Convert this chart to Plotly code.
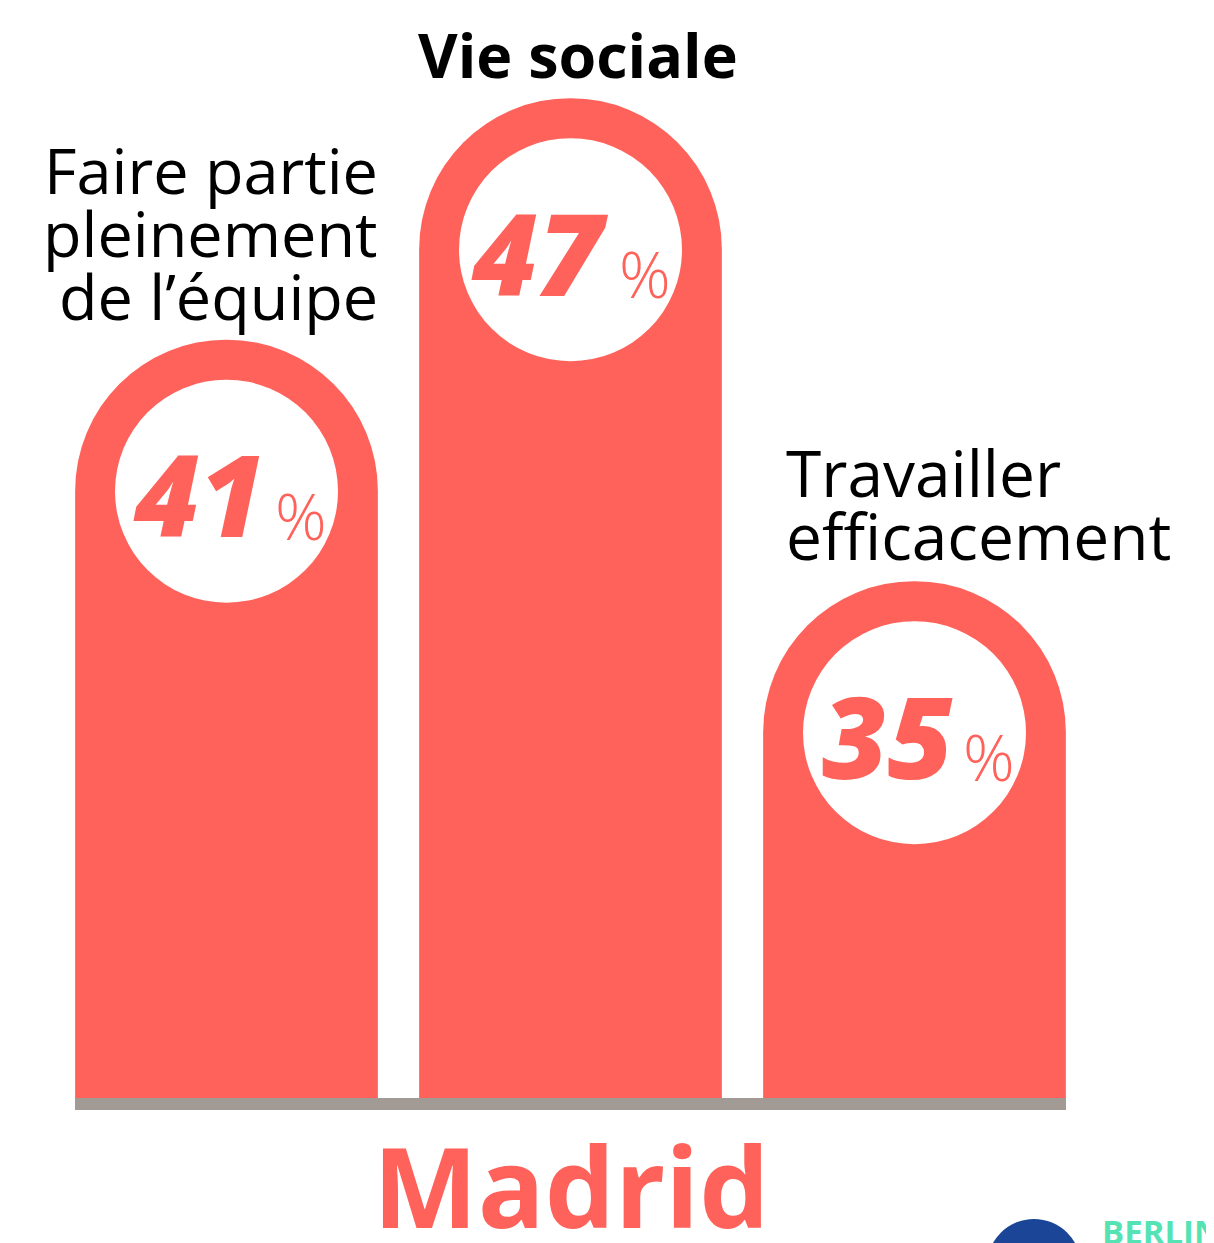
import plotly.graph_objects as go

# data
categories = ["Faire partie pleinement de l'équipe", "Vie sociale", "Travailler efficacement"]
values = [41, 47, 35]
label_lines = [["Faire partie", "pleinement", "de l’équipe"], ["Vie sociale"], ["Travailler", "efficacement"]]
city = "Madrid"

CORAL = "#FF625A"
GREY = "#A19A95"
W, H = 1214, 1243
OFF = 8            # page body margin
PW, PH = W - OFF, H - OFF

# vertical scale (px per percentage point); the plot area ends at the baseline
PPU = 40.25
Y_BOTTOM = 22.16
BASELINE_PX = 1098
Y_TOP = Y_BOTTOM + (BASELINE_PX - OFF) / PPU
X_PPU = 344
X0_PX = 226.5
BAR_W = 0.88
R_PX = 151.5  # half the bar width in px

xs = list(range(len(values)))
circle_y = [v - R_PX / PPU for v in values]


def px(x):
    return (x - OFF) / PW


def py(y):
    return 1 - (y - OFF) / PH


fig = go.Figure()
fig.add_trace(go.Bar(
    x=xs, y=values, width=BAR_W,
    marker=dict(color=CORAL, cornerradius="50%", line=dict(width=0)),
    hoverinfo="skip",
))
fig.add_trace(go.Scatter(
    x=xs, y=circle_y, mode="markers",
    marker=dict(size=223, color="white", line=dict(width=0)),
    hoverinfo="skip",
))

annotations = []
for i, (v, cy) in enumerate(zip(values, circle_y)):
    annotations.append(dict(
        x=i, y=cy, xref="x", yref="y", text=str(v), showarrow=False,
        xanchor="right", yanchor="middle", xshift=40, yshift=-2,
        font=dict(family="Open Sans", size=113, color=CORAL, weight=800, style="italic"),
    ))
    annotations.append(dict(
        x=i, y=cy, xref="x", yref="y", text="%", showarrow=False,
        xanchor="left", yanchor="middle", xshift=46, yshift=-24,
        font=dict(family="Open Sans", size=64, color=CORAL, weight=300),
    ))

# category labels stacked above each bar
label_cfg = [
    dict(xanchor="right", xshift=153, bold=False, size=63),
    dict(xanchor="center", xshift=7, bold=True, size=61),
    dict(xanchor="left", xshift=-131, bold=False, size=64),
]
LINE_H = 63
for i, (v, lines) in enumerate(zip(values, label_lines)):
    cfg = label_cfg[i]
    n = len(lines)
    for j, line in enumerate(lines):
        annotations.append(dict(
            x=i, y=v, xref="x", yref="y",
            text=f"<b>{line}</b>" if cfg["bold"] else line, showarrow=False,
            xanchor=cfg["xanchor"], yanchor="bottom",
            xshift=cfg["xshift"], yshift=(n - 1 - j) * LINE_H,
            font=dict(family="Open Sans", size=cfg["size"], color="black"),
        ))

annotations.append(dict(
    x=1, y=py(1263), xref="x", yref="paper", text=f"<b>{city}</b>", showarrow=False,
    xanchor="center", yanchor="bottom",
    font=dict(family="Open Sans", size=111, color=CORAL),
))
annotations.append(dict(
    x=px(1100), y=py(1207), xref="paper", yref="paper", text="<b>BERLIN</b>",
    showarrow=False, xanchor="left", yanchor="top",
    font=dict(family="Open Sans", size=33, color="#55E3B4"),
))

shapes = [
    dict(type="rect", xref="paper", yref="paper", x0=px(75), x1=px(1066),
         y0=py(1098), y1=py(1110),
         fillcolor=GREY, line=dict(width=0), layer="above"),
    dict(type="circle", xref="paper", yref="paper",
         x0=px(1034 - 47), x1=px(1034 + 47),
         y0=py(1266 + 47), y1=py(1266 - 47),
         fillcolor="#1B4596", line=dict(width=0)),
]

fig.update_layout(
    width=PW, height=PH, margin=dict(l=0, r=0, t=0, b=0),
    paper_bgcolor="white", plot_bgcolor="white", showlegend=False,
    annotations=annotations, shapes=shapes,
    xaxis=dict(range=[(OFF - X0_PX) / X_PPU, (W - X0_PX) / X_PPU],
               visible=False, fixedrange=True),
    yaxis=dict(range=[Y_BOTTOM, Y_TOP], domain=[py(BASELINE_PX), 1],
               visible=False, fixedrange=True),
)
fig.write_html("out.html")
